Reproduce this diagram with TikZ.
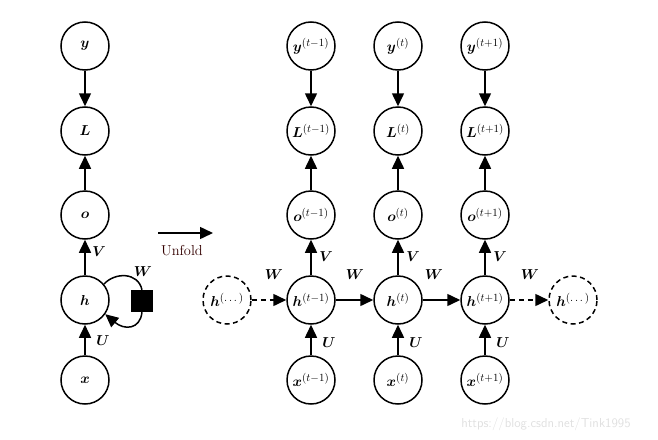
\documentclass[tikz,border=0pt]{standalone}
\usepackage{fix-cm}
\usepackage{amsmath}
\usepackage{bm}
\usetikzlibrary{arrows.meta}
\newcommand{\supx}[1]{^{\mbox{\fontsize{11}{13}\selectfont$(#1)$}}}
\begin{document}
\begin{tikzpicture}[x=1pt,y=-1pt,
  font=\Large,
  unit/.style={circle,draw,line width=1.5pt,minimum size=48pt,inner sep=0pt},
  ghost/.style={unit,dashed,dash pattern=on 5pt off 3.5pt},
  arr/.style={line width=1.5pt,-{Triangle[length=13pt,width=12pt]}},
  lbl/.style={inner sep=0pt}]
\useasboundingbox (0,0) rectangle (658,439);
% folded
\node[unit] (y) at (85,46) {$\bm{y}$};
\node[unit] (L) at (85,131) {$\bm{L}$};
\node[unit] (o) at (85,215) {$\bm{o}$};
\node[unit] (h) at (85,300) {$\bm{h}$};
\node[unit] (x) at (85,380) {$\bm{x}$};
\node[fill=black,minimum size=22pt,inner sep=0pt] (sq) at (142,301) {};
\draw[arr] (y) -- (L);
\draw[arr] (o) -- (L);
\draw[arr] (h) -- (o);
\draw[arr] (x) -- (h);
\draw[line width=1.5pt] (h.40) .. controls (115,272) and (138,272) .. (sq.north);
\draw[arr] (sq.south) .. controls (140,330) and (124,330) .. (h.-35);
\node[lbl] at (99,252) {$\bm{V}$};
\node[lbl] at (103,341) {$\bm{U}$};
\node[lbl] at (143,272) {$\bm{W}$};
% unfold
\coordinate (u1) at (158,233);
\coordinate (u2) at (213,233);
\draw[arr] (u1) -- (u2);
\node[lbl,text=black!80!red] at (182,251) {Unfold};
% unrolled
\foreach \n/\xx/\s in {a/311/{t{-}1},b/398/t,c/485/{t{+}1}}{
  \node[unit] (y\n) at (\xx,46) {$\bm{y}\supx{\s}$};
  \node[unit] (L\n) at (\xx,131) {$\bm{L}\supx{\s}$};
  \node[unit] (o\n) at (\xx,215) {$\bm{o}\supx{\s}$};
  \node[unit] (h\n) at (\xx,300) {$\bm{h}\supx{\s}$};
  \node[unit] (x\n) at (\xx,380) {$\bm{x}\supx{\s}$};
  \draw[arr] (y\n) -- (L\n);
  \draw[arr] (o\n) -- (L\n);
  \draw[arr] (h\n) -- (o\n);
  \draw[arr] (x\n) -- (h\n);
  \node[lbl] at (\xx+15,257) {$\bm{V}$};
  \node[lbl] at (\xx+18,343) {$\bm{U}$};
}
\node[ghost] (hl) at (227,300) {$\bm{h}\supx{\dots}$};
\node[ghost] (hr) at (573,300) {$\bm{h}\supx{\dots}$};
\draw[arr,dashed,dash pattern=on 5pt off 4pt] (hl) -- (ha);
\draw[arr] (ha) -- (hb);
\draw[arr] (hb) -- (hc);
\draw[arr,dashed,dash pattern=on 5pt off 4pt] (hc) -- (hr);
\node[lbl] at (274,275) {$\bm{W}$};
\node[lbl] at (355,275) {$\bm{W}$};
\node[lbl] at (434,275) {$\bm{W}$};
\node[lbl] at (530,275) {$\bm{W}$};
\node[lbl,text=black!12,font=\fontsize{13}{15}\sffamily] at (546,424) {https://blog.csdn.net/Tink1995};
\end{tikzpicture}
\end{document}
